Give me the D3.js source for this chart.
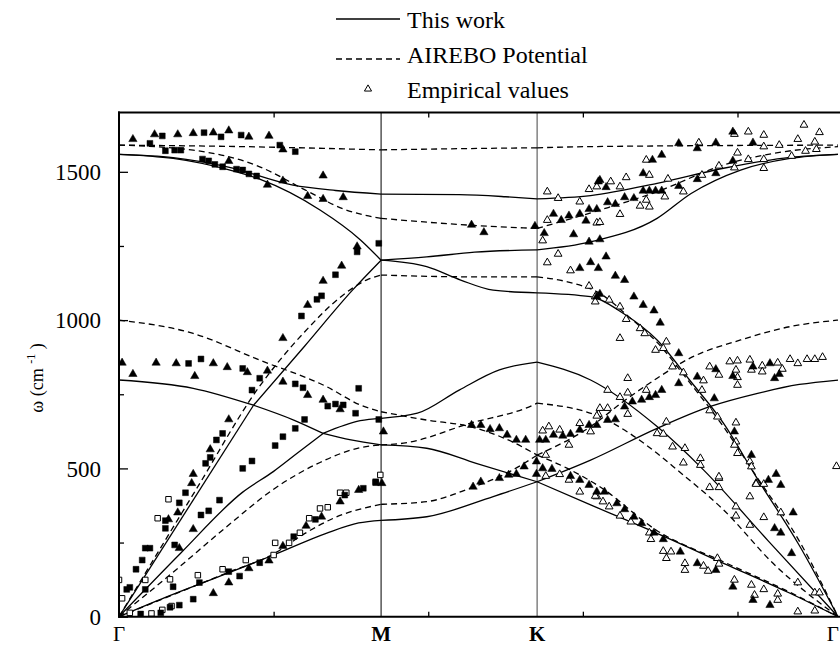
<!DOCTYPE html>
<html>
<head>
<meta charset="utf-8">
<script src="https://cdn.jsdelivr.net/npm/d3@7"></script>
<style>
	body { margin: 0; background: #fff; }
	svg { display: block; }
</style>
</head>
<body>
<div class="container"></div>
<script>
"use strict";

const serif = '"Liberation Serif", "DejaVu Serif", "Times New Roman", serif'

// high symmetry points along the path (k in axis units)
const kPoints = [
	{ label: 'Γ', k: 0, bold: false },
	{ label: 'M', k: 1.695, bold: true },
	{ label: 'K', k: 2.704, bold: true },
	{ label: 'Γ', k: 4.65, bold: false }
]
const yTicks = [0, 500, 1000, 1500]
const yMinorTicks = [250, 750, 1250]
const xMinorTicks = [1, 2, 3, 4]

// "This work" branches, [k, omega]
const solidBranches = [
	// Γ - M
	[[0, 1559], [0.35, 1548], [0.7, 1517], [1.125, 1455], [1.4, 1437], [1.695, 1425]],
	[[0, 1559], [0.35, 1545], [0.7, 1508], [0.91, 1475], [1.3, 1371], [1.56, 1271], [1.695, 1202]],
	[[0, 0], [0.87, 713]],
	[[0.87, 713], [1.2, 912], [1.51, 1101], [1.695, 1202]],
	[[0, 798], [0.48, 770], [0.87, 713]],
	[[0.87, 713], [1.13, 663], [1.32, 618]],
	[[1.32, 618], [1.5, 596], [1.695, 579]],
	[[0, 0], [0.4, 215], [0.8, 420], [1.0, 490], [1.15, 550], [1.32, 618]],
	[[1.32, 618], [1.56, 661], [1.695, 669]],
	[[0, 0], [0.3, 65], [0.7, 146], [1.0, 208], [1.34, 281], [1.55, 316], [1.695, 325]],
	// M - K
	[[1.695, 1425], [2.2, 1423], [2.5, 1416], [2.704, 1409]],
	[[1.695, 1202], [1.99, 1213], [2.3, 1229], [2.704, 1237]],
	[[1.695, 1202], [1.99, 1180], [2.21, 1135], [2.42, 1101], [2.704, 1092]],
	[[1.695, 669], [1.93, 686], [2.2, 764], [2.46, 832], [2.704, 858]],
	[[1.695, 579], [1.99, 568], [2.31, 517], [2.704, 455]],
	[[1.695, 325], [1.99, 337], [2.42, 405], [2.704, 455]],
	// K - Γ
	[[2.704, 1409], [3.05, 1420], [3.48, 1461], [3.91, 1512], [4.34, 1549], [4.65, 1559]],
	[[2.704, 1237], [3.05, 1264], [3.48, 1343], [3.7, 1427], [4.02, 1506], [4.34, 1545], [4.65, 1559]],
	[[2.704, 1092], [3.05, 1079], [3.26, 1023], [3.48, 933], [3.69, 798], [3.91, 652], [4.12, 472], [4.4, 240], [4.65, 0]],
	[[2.704, 858], [3.05, 798], [3.48, 641], [3.78, 495], [4.2, 255], [4.65, 0]],
	[[2.704, 455], [3.05, 528], [3.48, 635], [3.82, 708], [4.13, 753], [4.4, 783], [4.65, 798]],
	[[2.704, 455], [3.05, 377], [3.48, 281], [3.91, 180], [4.34, 79], [4.65, 0]]
]

// AIREBO branches, [k, omega]
const dashedBranches = [
	// Γ - M
	[[0, 1590], [0.8, 1585], [1.695, 1574]],
	[[0, 1590], [0.48, 1573], [0.91, 1517], [1.2, 1440], [1.45, 1375], [1.695, 1343]],
	[[0, 0], [0.5, 430], [0.9, 770], [1.2, 960], [1.45, 1085], [1.6, 1135], [1.695, 1152]],
	[[0, 1000], [0.48, 955], [0.91, 865], [1.345, 775], [1.56, 714], [1.695, 691]],
	[[0, 0], [0.35, 150], [0.7, 305], [1.0, 430], [1.3, 520], [1.56, 570], [1.695, 579]],
	[[0, 0], [0.4, 85], [0.7, 148], [1.0, 212], [1.2, 280], [1.4, 335], [1.695, 379]],
	// M - K
	[[1.695, 1574], [2.2, 1578], [2.704, 1581]],
	[[1.695, 1343], [2.27, 1320], [2.704, 1309]],
	[[1.695, 1152], [2.27, 1146], [2.704, 1146]],
	[[1.695, 691], [1.99, 663], [2.27, 641], [2.5, 600], [2.704, 545]],
	[[1.695, 579], [1.84, 585], [2.27, 652], [2.68, 714], [2.704, 720]],
	[[1.695, 379], [1.99, 388], [2.27, 433], [2.53, 490], [2.704, 545]],
	// K - Γ
	[[2.704, 1581], [3.05, 1585], [4.65, 1590]],
	[[2.704, 1309], [3.11, 1371], [3.48, 1433], [3.91, 1523], [4.23, 1562], [4.65, 1585]],
	[[2.704, 1146], [2.9, 1129], [3.11, 1090], [3.3, 1010], [3.48, 925], [3.69, 790], [3.91, 640], [4.12, 475], [4.4, 255], [4.65, 0]],
	[[2.704, 720], [3.11, 674], [3.48, 551], [3.61, 495], [3.91, 360], [4.23, 180], [4.65, 0]],
	[[2.704, 545], [3.05, 641], [3.26, 725], [3.48, 804], [3.69, 871], [4.02, 933], [4.34, 978], [4.65, 1000]],
	[[2.704, 545], [2.9, 500], [3.11, 438], [3.48, 290], [3.91, 185], [4.34, 82], [4.65, 0]]
]

// measured points
const filledTri = [
	[0.09, 1610], [0.23, 1626], [0.38, 1626], [0.48, 1630], [0.61, 1632], [0.71, 1639], [0.84, 1618], [0.97, 1621],
	[1.06, 1575], [0.71, 1536], [0.96, 1456], [1.06, 1470], [1.22, 1418], [1.32, 1408], [1.45, 1414], [1.32, 1487],
	[1.54, 1248], [1.44, 1183], [1.32, 1132],
	[0.02, 856], [0.09, 818], [0.24, 856], [0.37, 854], [0.49, 811], [0.61, 854], [0.70, 841], [0.83, 824], [0.96, 829],
	[1.06, 939], [1.06, 792], [1.22, 1051], [1.22, 747], [1.32, 731], [1.43, 699], [0.71, 665], [0.59, 564], [0.48, 481], [0.47, 450],
	[0.38, 351], [0.32, 328], [0.48, 295], [0.39, 231], [0.61, 79], [0.71, 115], [0.84, 163], [0.97, 189], [1.06, 238],
	[1.21, 306], [1.31, 337], [1.43, 388], [1.55, 427], [1.70, 450], [1.71, 624],
	[2.28, 1321], [2.36, 1296], [2.69, 1317], [2.75, 1293], [2.81, 1358], [2.86, 1337], [2.91, 1352], [2.98, 1358],
	[3.04, 1374], [3.09, 1374], [3.02, 1335], [2.94, 1289], [3.04, 1264], [3.05, 1195], [2.98, 1175], [3.10, 1467], [3.09, 1079],
	[2.28, 646], [2.34, 646], [2.40, 632], [2.46, 635], [2.51, 613], [2.57, 596], [2.63, 596], [2.72, 596], [2.76, 596],
	[2.81, 613], [2.87, 610], [2.92, 616], [2.98, 630], [3.04, 646], [3.09, 646], [2.70, 523], [2.62, 506], [2.57, 481],
	[2.52, 478], [2.46, 467], [2.34, 455], [2.29, 438], [2.70, 481], [2.74, 500], [2.80, 498], [2.92, 474], [2.98, 461],
	[3.04, 444], [3.09, 421],
	[3.97, 1635], [3.86, 1598], [4.10, 1598], [3.62, 1596], [3.74, 1579], [3.97, 1537], [3.51, 1557], [3.45, 1540],
	[3.39, 1495], [3.11, 1472], [3.15, 1448], [3.39, 1436], [3.43, 1436], [3.47, 1436], [3.51, 1436], [3.62, 1452],
	[3.74, 1475], [3.86, 1495], [3.33, 1411], [3.27, 1414], [3.21, 1391], [3.16, 1397], [3.11, 1272], [3.15, 1214],
	[3.10, 1175], [3.21, 1149], [3.27, 1135], [3.33, 1079],
	[3.11, 1088], [3.39, 1051], [3.46, 1032], [3.50, 991], [3.62, 888], [3.62, 787], [3.74, 809], [3.85, 736], [3.86, 834],
	[3.97, 811], [4.10, 843], [4.21, 854], [4.24, 804], [4.27, 818], [3.98, 624], [4.09, 545], [4.25, 481], [4.20, 461],
	[4.28, 444], [3.51, 764], [3.47, 747], [3.43, 740], [3.38, 731], [3.32, 725], [3.27, 708], [3.21, 665], [3.16, 663],
	[3.14, 421], [3.22, 382], [3.27, 362], [3.33, 337], [3.38, 315], [3.46, 283], [3.52, 261], [3.63, 219], [3.74, 180],
	[3.86, 157], [3.97, 101], [4.10, 56], [4.21, 39], [4.36, 351], [4.24, 298], [4.28, 283], [4.35, 214]
]

const openTri = [
	[2.77, 1433], [2.84, 1411], [2.98, 1399], [3.04, 1441], [2.77, 1337], [2.74, 1268], [2.84, 1223], [2.77, 1194],
	[2.92, 1167], [3.04, 1115], [3.09, 1328],
	[2.74, 627], [2.78, 641], [2.85, 630], [2.98, 652], [3.05, 624], [2.91, 579], [2.76, 545], [2.76, 474], [2.85, 480],
	[2.91, 461], [3.10, 683], [3.08, 1079], [2.98, 421], [3.09, 405],
	[4.43, 1658], [4.53, 1633], [4.39, 1610], [4.50, 1601], [4.51, 1576], [4.44, 1570], [4.27, 1590], [4.17, 1624],
	[4.17, 1585], [4.07, 1635], [3.98, 1627], [3.75, 1598], [4.00, 1564], [4.07, 1542], [4.17, 1542], [4.17, 1512],
	[4.35, 1553], [3.98, 1514], [3.88, 1520], [3.77, 1489], [3.55, 1476], [3.41, 1540], [3.43, 1489], [3.28, 1481],
	[3.24, 1450], [3.18, 1467], [3.09, 1450], [3.53, 1416], [3.65, 1433], [3.41, 1405], [3.37, 1385], [3.43, 1382],
	[3.24, 1357], [3.11, 1330],
	[3.08, 1062], [3.17, 1068], [3.24, 1045], [3.28, 1003], [3.24, 939], [3.37, 972], [3.40, 955], [3.54, 927],
	[3.47, 899], [3.52, 905], [3.58, 843], [3.65, 823], [3.78, 796], [3.77, 764], [3.82, 843], [3.95, 860], [4.00, 863],
	[4.08, 866], [4.16, 846], [4.16, 826], [4.09, 832], [3.99, 832], [4.00, 807], [4.00, 781], [3.88, 815], [4.26, 856],
	[4.29, 835], [4.34, 868], [4.39, 854], [4.45, 868], [4.50, 868], [4.55, 875], [3.29, 804], [3.16, 764], [3.29, 755],
	[3.41, 764], [3.24, 740], [3.29, 683], [3.11, 703], [3.16, 703], [3.09, 677], [3.54, 657], [3.48, 618], [3.52, 616],
	[3.82, 695], [3.87, 674], [3.99, 654], [3.99, 590], [3.98, 579], [4.00, 551], [4.08, 523], [4.09, 506], [3.58, 573],
	[3.66, 568], [3.65, 519], [3.76, 534], [3.76, 511], [3.88, 467], [4.12, 450],
	[3.08, 407], [3.13, 388], [3.17, 371], [3.24, 340], [3.31, 320], [3.43, 283], [3.44, 261], [3.52, 221], [3.57, 219],
	[3.54, 197], [3.66, 180], [3.66, 157], [3.78, 171], [3.81, 154], [3.87, 197], [3.88, 178], [3.98, 124], [4.09, 107],
	[4.11, 73], [4.17, 92], [4.26, 77], [4.26, 56], [4.39, 17], [4.50, 20], [3.88, 472], [3.82, 436], [3.88, 436],
	[3.99, 371], [3.99, 340], [4.08, 405], [4.08, 309], [4.17, 335], [4.12, 447], [4.17, 447], [4.28, 351], [4.39, 115],
	[4.50, 81], [4.53, 81], [4.64, 507]
]

const filledSq = [
	[0.20, 1596], [0.28, 1621], [0.55, 1632], [0.66, 1618], [0.79, 1624], [1.04, 1590], [1.14, 1568], [0.30, 1571],
	[0.36, 1573], [0.40, 1573], [0.54, 1543], [0.58, 1537], [0.62, 1525], [0.67, 1517], [0.76, 1509], [0.80, 1506],
	[0.84, 1493], [0.89, 1486], [1.40, 1153], [1.31, 1082], [1.54, 1230], [1.68, 1259],
	[0.45, 854], [0.53, 869], [0.80, 837], [0.91, 804], [0.86, 764], [1.14, 785], [1.19, 772], [1.35, 710], [1.40, 717],
	[1.45, 714], [1.55, 770], [1.53, 686], [1.18, 1014], [1.28, 1070], [1.20, 665], [1.14, 635], [1.06, 607], [1.01, 577],
	[0.86, 525], [0.80, 500], [0.63, 596], [0.67, 618], [0.56, 517], [0.59, 537], [1.68, 665], [1.66, 455], [1.58, 433],
	[0.30, 324], [0.30, 298], [0.39, 384], [0.43, 418], [0.65, 393], [0.58, 357], [0.53, 343], [0.36, 242], [0.20, 231],
	[0.17, 231], [0.15, 191], [0.11, 160], [0.07, 99], [0.05, 92], [0.17, 92], [0.35, 101], [0.52, 115], [0.48, 59],
	[0.39, 39], [0.33, 32], [0.27, 13], [0.14, 9], [0.71, 152], [0.78, 137], [0.91, 182], [1.13, 270], [1.27, 328],
	[1.46, 410], [1.66, 452]
]

const openSq = [
	[0.00, 124], [0.02, 62], [0.07, 13], [0.21, 11], [0.28, 23], [0.34, 36], [0.17, 124], [0.25, 332], [0.32, 396],
	[0.33, 126], [0.51, 140], [0.67, 160], [0.82, 191], [1.00, 208], [1.01, 249], [1.10, 249], [1.17, 283], [1.23, 332],
	[1.30, 365], [1.35, 369], [1.43, 418], [1.47, 418], [1.69, 478]
]

const legendItems = ['This work', 'AIREBO Potential', 'Empirical values']

//layout of the svg
const p = {
	width: 840,
	height: 648,
	left: 119,
	right: 838,
	top: 112.5,
	bottom: 616.7
}

const svg = d3.select('.container')
	.append('svg')
	.attr('width', p.width)
	.attr('height', p.height)
	.style('font-family', serif)

const x = d3.scaleLinear().domain([0, 4.65]).range([p.left, p.right])
const y = d3.scaleLinear().domain([0, 1700]).range([p.bottom, p.top])

svg.append('clipPath').attr('id', 'plotClip')
	.append('rect')
	.attr('x', p.left).attr('y', p.top)
	.attr('width', p.width - p.left).attr('height', p.bottom - p.top)

const line = d3.line()
	.x(d => x(d[0]))
	.y(d => y(d[1]))
	.curve(d3.curveMonotoneX)

//vertical lines at M and K
svg.selectAll('.sym')
	.data(kPoints.slice(1, 3))
	.enter().append('line')
	.attr('x1', d => x(d.k)).attr('x2', d => x(d.k))
	.attr('y1', p.top).attr('y2', p.bottom)
	.attr('stroke', (d, i) => i === 0 ? '#000' : '#444')
	.attr('stroke-width', 1)

const plot = svg.append('g').attr('clip-path', 'url(#plotClip)')

plot.selectAll('.solid')
	.data(solidBranches)
	.enter().append('path')
	.attr('d', line)
	.attr('fill', 'none')
	.attr('stroke', '#000')
	.attr('stroke-width', 1.3)

plot.selectAll('.dashed')
	.data(dashedBranches)
	.enter().append('path')
	.attr('d', line)
	.attr('fill', 'none')
	.attr('stroke', '#000')
	.attr('stroke-width', 1.3)
	.attr('stroke-dasharray', '6,4')

//markers
function drawMarkers(data, type, size, filled) {
	plot.append('g').selectAll('path')
		.data(data)
		.enter().append('path')
		.attr('d', d3.symbol().type(type).size(size))
		.attr('transform', d => 'translate(' + x(d[0]) + ',' + y(d[1]) + ')')
		.attr('fill', filled ? '#000' : '#fff')
		.attr('stroke', '#000')
		.attr('stroke-width', filled ? 0.5 : 1)
}
drawMarkers(openSq, d3.symbolSquare, 30, false)
drawMarkers(filledSq, d3.symbolSquare, 34, true)
drawMarkers(openTri, d3.symbolTriangle, 26, false)
drawMarkers(filledTri, d3.symbolTriangle, 30, true)

//axes
const gLeft = svg.append('g').attr('transform', 'translate(' + p.left + ',0)')
	.call(d3.axisLeft(y).tickValues(yTicks).tickSize(-9).tickPadding(18).tickFormat(d3.format('d')))
gLeft.selectAll('text')
	.style('font-family', serif)
	.style('font-size', '23px')
	.attr('dy', '0.34em')
svg.append('g').attr('transform', 'translate(' + p.left + ',0)')
	.call(d3.axisLeft(y).tickValues(yMinorTicks).tickSize(-5).tickFormat(''))
svg.append('g').attr('transform', 'translate(0,' + p.bottom + ')')
	.call(d3.axisBottom(x).tickValues(xMinorTicks).tickSize(-5).tickFormat(''))
svg.append('g').attr('transform', 'translate(0,' + p.top + ')')
	.call(d3.axisTop(x).tickValues(xMinorTicks).tickSize(-5).tickFormat(''))
svg.selectAll('.domain').remove()
svg.selectAll('.tick line').attr('stroke', '#000').attr('stroke-width', 1.3)

//frame
svg.append('line').attr('x1', p.left).attr('x2', p.left).attr('y1', p.top - 1).attr('y2', p.bottom + 1)
	.attr('stroke', '#000').attr('stroke-width', 2)
svg.append('line').attr('x1', p.left - 1).attr('x2', p.width).attr('y1', p.top).attr('y2', p.top)
	.attr('stroke', '#000').attr('stroke-width', 2)
svg.append('line').attr('x1', p.left - 1).attr('x2', p.width).attr('y1', p.bottom).attr('y2', p.bottom)
	.attr('stroke', '#000').attr('stroke-width', 2)

//symmetry point labels (last one pulled in so it stays on the page)
svg.selectAll('.klabel')
	.data(kPoints)
	.enter().append('text')
	.attr('x', (d, i) => i === kPoints.length - 1 ? p.width - 1 : x(d.k))
	.attr('y', 641)
	.attr('text-anchor', (d, i) => i === kPoints.length - 1 ? 'end' : 'middle')
	.style('font-family', serif)
	.style('font-size', '21px')
	.style('font-weight', d => d.bold ? 'bold' : 'normal')
	.text(d => d.label)

//y axis title
const yTitle = svg.append('text')
	.attr('transform', 'translate(43,378) rotate(-90)')
	.attr('text-anchor', 'middle')
	.style('font-family', serif)
	.style('font-size', '18px')
yTitle.append('tspan').text('ω (cm ')
yTitle.append('tspan').attr('dy', -8).style('font-size', '12px').text('-1')
yTitle.append('tspan').attr('dy', 8).text(' )')

//legend
const legend = svg.append('g')
legend.append('line').attr('x1', 336).attr('x2', 400).attr('y1', 19).attr('y2', 19)
	.attr('stroke', '#000').attr('stroke-width', 1.5)
legend.append('line').attr('x1', 336).attr('x2', 400).attr('y1', 59).attr('y2', 59)
	.attr('stroke', '#000').attr('stroke-width', 1.3).attr('stroke-dasharray', '6,4')
legend.append('path')
	.attr('d', d3.symbol().type(d3.symbolTriangle).size(22))
	.attr('transform', 'translate(368,89)')
	.attr('fill', '#fff').attr('stroke', '#000').attr('stroke-width', 1)
legend.selectAll('.legtext')
	.data(legendItems)
	.enter().append('text')
	.attr('x', 407)
	.attr('y', (d, i) => 28 + i * 35)
	.style('font-family', serif)
	.style('font-size', '24px')
	.text(d => d)
</script>
</body>
</html>
